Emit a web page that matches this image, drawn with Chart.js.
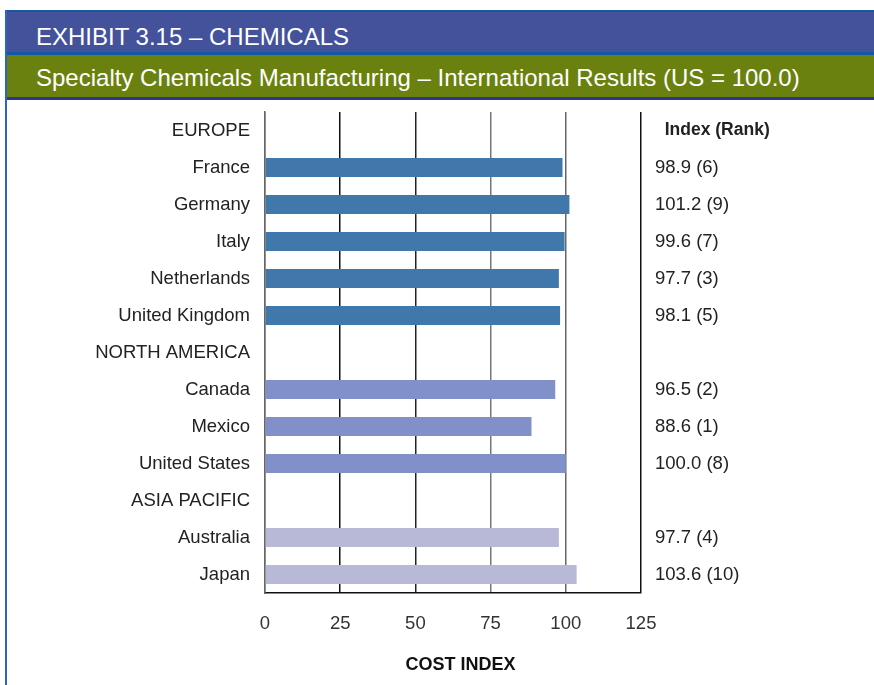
<!DOCTYPE html>
<html>
<head>
<meta charset="utf-8">
<script src="https://cdn.jsdelivr.net/npm/chart.js@4.4.0/dist/chart.umd.min.js"></script>
<style>
  html, body { margin: 0; padding: 0; background: #fff; }
  #page { position: relative; width: 874px; height: 685px; overflow: hidden; font-family: "Liberation Sans", Arial, sans-serif; }
  #leftLine { position: absolute; left: 5px; top: 10px; width: 2px; height: 675px; background: #2a67b8; }
  #titleBar { position: absolute; left: 7px; top: 10px; width: 867px; height: 40px; background: #43529b;
              border-top: 2px solid #1458a6; border-bottom: 3px solid #1458a6; }
  #subBar { position: absolute; left: 7px; top: 55px; width: 867px; height: 42px; background: #6b810f;
            border-bottom: 3px solid #30368f; }
  .hdr { position: absolute; left: 29px; color: #fff; font-size: 24px; white-space: nowrap; }
  #titleBar .hdr { top: 11px; }
  #subBar .hdr { top: 9px; }
  #chartWrap { position: absolute; left: 0; top: 0; width: 874px; height: 685px; }
</style>
</head>
<body>
<div id="page">
  <div id="chartWrap"><canvas id="myChart" width="874" height="685"></canvas></div>
  <div id="leftLine"></div>
  <div id="titleBar"><div class="hdr">EXHIBIT 3.15 – CHEMICALS</div></div>
  <div id="subBar"><div class="hdr">Specialty Chemicals Manufacturing – International Results (US = 100.0)</div></div>
</div>
<script>
    // rows top to bottom, group headers have no value
    const categories = [
        'EUROPE', 'France', 'Germany', 'Italy', 'Netherlands', 'United Kingdom',
        'NORTH AMERICA', 'Canada', 'Mexico', 'United States',
        'ASIA PACIFIC', 'Australia', 'Japan'
    ];
    const regions = [
        'EUROPE', 'EUROPE', 'EUROPE', 'EUROPE', 'EUROPE', 'EUROPE',
        'NORTH AMERICA', 'NORTH AMERICA', 'NORTH AMERICA', 'NORTH AMERICA',
        'ASIA PACIFIC', 'ASIA PACIFIC', 'ASIA PACIFIC'
    ];
    const costIndex = [null, 98.9, 101.2, 99.6, 97.7, 98.1, null, 96.5, 88.6, 100.0, null, 97.7, 103.6];
    const indexRank = [
        '  Index (Rank)', '98.9 (6)', '101.2 (9)', '99.6 (7)', '97.7 (3)', '98.1 (5)',
        '', '96.5 (2)', '88.6 (1)', '100.0 (8)',
        '', '97.7 (4)', '103.6 (10)'
    ];
    const xTicks = [0, 25, 50, 75, 100, 125];

    const regionColors = {
        'EUROPE': '#4178ab',
        'NORTH AMERICA': '#8290c9',
        'ASIA PACIFIC': '#b8b9d6'
    };
    const gridColors = ['#777777', '#111111', '#222222', '#777777', '#666666', '#111111'];

    const font = { family: "'Liberation Sans', Arial, sans-serif", size: 18.5 };

    const data = {
        labels: categories,
        datasets: [{
            label: 'Cost index',
            data: costIndex,
            backgroundColor: regions.map(r => regionColors[r]),
            borderWidth: 0,
            barPercentage: 0.52,
            categoryPercentage: 1.0
        }]
    };

    const config = {
        type: 'bar',
        data: data,
        options: {
            indexAxis: 'y',
            responsive: false,
            animation: false,
            layout: { padding: { top: 112, left: 0, right: 0, bottom: 0 } },
            plugins: {
                legend: { display: false },
                tooltip: { enabled: false }
            },
            scales: {
                x: {
                    type: 'linear',
                    min: 0,
                    max: 125,
                    afterBuildTicks: axis => { axis.ticks = xTicks.map(v => ({ value: v })); },
                    afterFit: axis => { axis.height = 92; },
                    ticks: { font: font, color: '#333', padding: 20 },
                    grid: {
                        drawTicks: false,
                        lineWidth: 1.5,
                        color: ctx => gridColors[ctx.index] || '#444'
                    },
                    border: { display: true, color: '#111', width: 1.5 },
                    title: {
                        display: true,
                        text: '   COST INDEX',
                        color: '#111',
                        font: { family: font.family, size: 18, weight: 'bold' },
                        padding: { top: 0, bottom: 9 }
                    }
                },
                y: {
                    type: 'category',
                    offset: true,
                    afterFit: axis => { axis.width = 265; },
                    ticks: { font: font, color: '#222', padding: 15, autoSkip: false },
                    grid: { display: false, drawTicks: false },
                    border: { display: true, color: '#666', width: 1.5 }
                },
                y2: {
                    type: 'category',
                    position: 'right',
                    labels: indexRank,
                    offset: true,
                    afterFit: axis => { axis.width = 233; },
                    ticks: {
                        color: '#222',
                        padding: 14,
                        autoSkip: false,
                        font: ctx => ctx.index === 0
                            ? { family: font.family, size: 17.5, weight: 'bold' }
                            : font
                    },
                    grid: { display: false, drawTicks: false },
                    border: { display: false }
                }
            }
        }
    };

    const myChart = new Chart(document.getElementById('myChart'), config);
</script>
</body>
</html>
